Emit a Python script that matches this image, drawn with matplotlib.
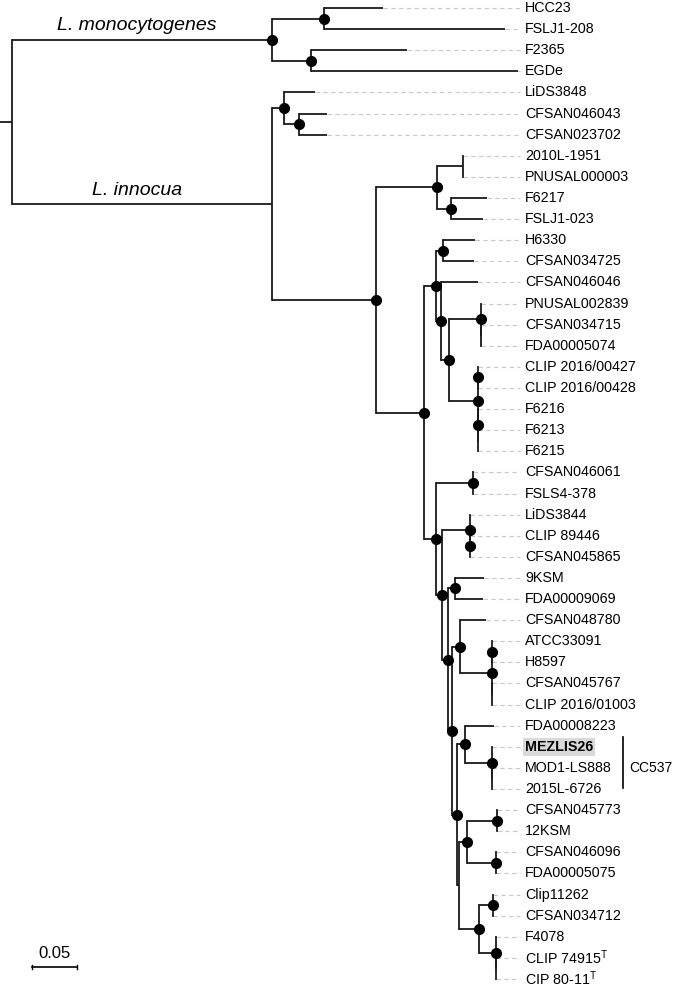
import matplotlib
matplotlib.use("Agg")
import matplotlib.pyplot as plt

plt.rcParams["font.family"] = ["Liberation Sans", "DejaVu Sans"]
plt.rcParams["mathtext.fontset"] = "custom"
plt.rcParams["mathtext.rm"] = "Liberation Sans"

# tips, top to bottom
TAXA = [
    "HCC23", "FSLJ1-208", "F2365", "EGDe", "LiDS3848", "CFSAN046043",
    "CFSAN023702", "2010L-1951", "PNUSAL000003", "F6217", "FSLJ1-023",
    "H6330", "CFSAN034725", "CFSAN046046", "PNUSAL002839", "CFSAN034715",
    "FDA00005074", "CLIP 2016/00427", "CLIP 2016/00428", "F6216", "F6213",
    "F6215", "CFSAN046061", "FSLS4-378", "LiDS3844", "CLIP 89446",
    "CFSAN045865", "9KSM", "FDA00009069", "CFSAN048780", "ATCC33091",
    "H8597", "CFSAN045767", "CLIP 2016/01003", "FDA00008223", "MEZLIS26",
    "MOD1-LS888", "2015L-6726", "CFSAN045773", "12KSM", "CFSAN046096",
    "FDA00005075", "Clip11262", "CFSAN034712", "F4078",
    "CLIP 74915$^{\\mathrm{T}}$", "CIP 80-11$^{\\mathrm{T}}$",
]
TAXA_PARENT = [
    "hcc", "hcc", "f23", "f23", "lids", "lids2", "lids2", "pn", "pn", "f62",
    "f62", "hc2", "hc2", "b", "d", "d2", "d2", "e1", "e1", "e2", "e3", "e3",
    "g", "g", "i", "i2", "i2", "k", "k", "m", "w", "w", "x", "x", "q", "r",
    "r2", "r2", "s1", "s1", "s2", "s2", "t1", "t1", "t2", "t3", "t3",
]
TAXA_LEN = [
    0.0655, 0.2011, 0.1067, 0.2300, 0.0345, 0.0311, 0.0311, 0.0, 0.0, 0.0400,
    0.0355, 0.0355, 0.0344, 0.0411, 0.0, 0.0, 0.0, 0.0, 0.0, 0.0, 0.0, 0.0,
    0.0, 0.0, 0.0, 0.0, 0.0, 0.0322, 0.0311, 0.0289, 0.0, 0.0, 0.0, 0.0,
    0.0323, 0.0, 0.0, 0.0, 0.0, 0.0, 0.0, 0.0, 0.0, 0.0, 0.0, 0.0, 0.0,
]

# internal nodes (parents before children); support 1 = filled dot
NODES = [
    "root", "mono", "hcc", "f23", "inn", "lids", "lids2", "big", "up", "pn",
    "f62", "n424", "a", "hc2", "b", "c", "d", "d2", "e", "e1", "e2", "e3",
    "f", "g", "h", "i", "i2", "j", "k", "l", "m", "v", "w", "x", "n", "q",
    "r", "r2", "u", "s", "s1", "s2", "t", "t1", "t2", "t3",
]
NODE_PARENT = [
    None, "root", "mono", "mono", "root", "inn", "lids", "inn", "big", "up",
    "up", "big", "n424", "a", "a", "b", "c", "d", "c", "e", "e", "e2",
    "n424", "f", "f", "h", "i", "h", "j", "j", "l", "m", "v", "v", "l", "n",
    "q", "r", "n", "u", "s", "s", "u", "t", "t", "t2",
]
NODE_LEN = [
    0.0, 0.2889, 0.0578, 0.0433, 0.2889, 0.0133, 0.0167, 0.1155, 0.0678,
    0.0289, 0.0156, 0.0534, 0.0133, 0.0078, 0.0056, 0.0089, 0.0355, 0.0,
    0.0322, 0.0, 0.0, 0.0, 0.0133, 0.0411, 0.0067, 0.0311, 0.0, 0.0066,
    0.0078, 0.0045, 0.0089, 0.0355, 0.0, 0.0, 0.0055, 0.0089, 0.0300, 0.0,
    0.0023, 0.0089, 0.0333, 0.0322, 0.0222, 0.0155, 0.0189, 0.0,
]
NODE_SUPPORT = [
    0, 1, 1, 1, 0, 1, 1, 1, 1, 0, 1, 1, 1, 1, 1, 1, 1, 0, 1, 1, 1, 0,
    1, 1, 1, 1, 1, 1, 1, 1, 1, 1, 1, 0, 1, 1, 1, 0, 0, 1, 1, 1, 1, 1, 1, 0,
]
ROOT_STUB = 0.0133

CLADE_NODES = ["mono", "inn"]
CLADE_NAMES = ["L. monocytogenes", "L. innocua"]
HIGHLIGHT = "MEZLIS26"
CC_MEMBERS = ["MEZLIS26", "MOD1-LS888", "2015L-6726"]
CC_NAME = "CC537"
SCALE_LEN = 0.05

LABEL_X = 0.5700
DASH_END = 0.5644
LINE = "#1a1a1a"
ROW_PX = 21.11


def layout():
    depth = {}
    parent = {}
    for name, par, bl in zip(NODES, NODE_PARENT, NODE_LEN):
        depth[name] = 0.0 if par is None else depth[par] + bl
        parent[name] = par
    for name, par, bl in zip(TAXA, TAXA_PARENT, TAXA_LEN):
        depth[name] = depth[par] + bl
        parent[name] = par

    children = {n: [] for n in NODES}
    for name, par in parent.items():
        if par is not None:
            children[par].append(name)

    ypos = {name: i for i, name in enumerate(TAXA)}

    def node_y(n):
        if n in ypos:
            return ypos[n]
        ys = [node_y(c) for c in children[n]]
        ypos[n] = (min(ys) + max(ys)) / 2
        return ypos[n]

    node_y("root")
    return depth, parent, children, ypos


def main():
    depth, parent, children, ypos = layout()

    fig = plt.figure(figsize=(6.75, 9.88), dpi=100)
    ax = fig.add_axes([0, 0, 1, 1])
    ax.set_xlim(-12 / 900, 663 / 900)
    ax.set_ylim(len(TAXA) - 1 + 9 / ROW_PX, -8 / ROW_PX)
    ax.axis("off")

    # branches
    for name, par in parent.items():
        x0 = depth[par] if par is not None else -ROOT_STUB
        ax.plot([x0, depth[name]], [ypos[name], ypos[name]],
                color=LINE, lw=1.3, solid_capstyle="butt", zorder=2)
    for n, kids in children.items():
        ys = [ypos[c] for c in kids]
        ax.plot([depth[n], depth[n]], [min(ys), max(ys)],
                color=LINE, lw=1.3, solid_capstyle="projecting", zorder=2)

    # support dots
    for n, sup in zip(NODES, NODE_SUPPORT):
        if sup:
            ax.plot(depth[n], ypos[n], "o", color="black", ms=7, zorder=3)

    # tip labels with dashed leaders
    for name in TAXA:
        y = ypos[name]
        ax.plot([depth[name], DASH_END], [y, y], color="#c8c8c8", lw=0.8,
                dashes=(4, 3), zorder=1)
        kw = {}
        if name == HIGHLIGHT:
            kw = dict(fontweight="bold",
                      bbox=dict(boxstyle="square,pad=0.12", fc="#d9d9d9", ec="none"))
        ax.text(LABEL_X, y, name, fontsize=10.3, va="center", ha="left", **kw)

    # clade names above their stems
    for n, label in zip(CLADE_NODES, CLADE_NAMES):
        xm = depth[n] / 2 - 0.006
        ax.annotate(label, (xm, ypos[n]), xytext=(0, 4), textcoords="offset points",
                    ha="center", va="bottom", fontsize=14, style="italic")

    # clonal complex bracket
    ys = [ypos[t] for t in CC_MEMBERS]
    bx = 611 / 900
    ax.plot([bx, bx], [min(ys) - 0.45, max(ys) - 0.05], color="black", lw=1.2)
    ax.text(bx + 0.007, sum(ys) / len(ys), CC_NAME, fontsize=10, va="center", ha="left")

    # scale bar
    sx, sy = 0.0219, 45.43
    ax.plot([sx, sx + SCALE_LEN], [sy, sy], color="black", lw=1.2)
    ax.plot([sx, sx], [sy - 0.1, sy + 0.1], color="black", lw=1.0)
    ax.plot([sx + SCALE_LEN, sx + SCALE_LEN], [sy - 0.1, sy + 0.1], color="black", lw=1.0)
    ax.text(sx + SCALE_LEN / 2, sy - 0.3, f"{SCALE_LEN:.2f}", fontsize=12,
            ha="center", va="bottom")

    fig.savefig("out.png", dpi=100)
    plt.close(fig)


if __name__ == "__main__":
    main()
